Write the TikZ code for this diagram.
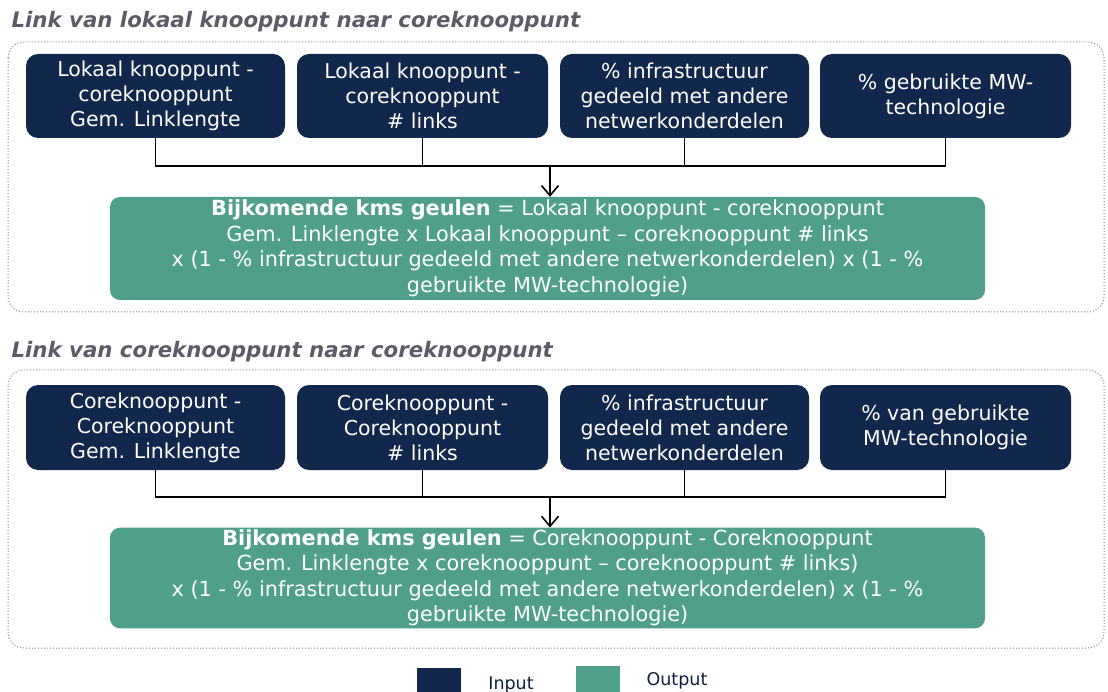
\documentclass[tikz,border=0pt]{standalone}
\usepackage{fontspec}
\setmainfont{DejaVu Sans}
\usetikzlibrary{arrows.meta}
\definecolor{navy}{HTML}{11284C}
\definecolor{teal}{HTML}{4F9F8A}
\definecolor{titlegray}{HTML}{5C5C68}
\definecolor{framegray}{HTML}{8A8A8A}
\begin{document}
\begin{tikzpicture}[x=1pt,y=-1pt,
  inbox/.style={fill=navy,text=white,rounded corners=12pt,minimum height=84pt,
    align=center,font=\fontsize{20.5}{25}\selectfont,inner sep=2pt},
  outbox/.style={fill=teal,text=white,rounded corners=10pt,minimum width=875pt,
    align=center,font=\fontsize{20.8}{25.5}\selectfont,inner sep=2pt},
  frame/.style={draw=framegray,dotted,line width=1pt,rounded corners=16pt},
  heading/.style={anchor=west,text=titlegray,font=\fontsize{21.3}{24}\selectfont\bfseries\itshape},
  wire/.style={draw=black,line width=1.4pt},
  feed/.style={wire,-{Straight Barb[length=10pt,width=17pt,line width=1.6pt]}},
  legendtext/.style={text=navy!80!black,font=\fontsize{17.5}{20}\selectfont}]
\useasboundingbox[fill=white] (0,0) rectangle (1108,692);

% ---- link from local node to core node ----
\node[heading] (t1) at (8,22) {Link van lokaal knooppunt naar coreknooppunt};
\draw[frame] (8,42) rectangle (1104,312);
\node[inbox,minimum width=259pt] (a1) at (155.5,96) {Lokaal knooppunt -\\coreknooppunt\\Gem. Linklengte};
\node[inbox,minimum width=251pt] (a2) at (422.5,96) {Lokaal knooppunt -\\coreknooppunt\\\# links};
\node[inbox,minimum width=249pt] (a3) at (684.5,96) {\% infrastructuur\\gedeeld met andere\\netwerkonderdelen};
\node[inbox,minimum width=251pt] (a4) at (945.5,96) {\% gebruikte MW-\\technologie};
\node[outbox,minimum height=103pt] (ga) at (547.5,248.5) {\textbf{Bijkomende kms geulen} = Lokaal knooppunt - coreknooppunt\\Gem. Linklengte x Lokaal knooppunt – coreknooppunt \# links\\x (1 - \% infrastructuur gedeeld met andere netwerkonderdelen) x (1 - \%\\gebruikte MW-technologie)};
\coordinate (ja) at (550,166);
\draw[wire] (a1.south) |- (ja) -| (a4.south);
\draw[wire] (a2.south) -- (a2.south |- ja);
\draw[wire] (a3.south) -- (a3.south |- ja);
\draw[feed] (ja) -- (ja |- ga.north);

% ---- link from core node to core node ----
\node[heading] (t2) at (8,352) {Link van coreknooppunt naar coreknooppunt};
\draw[frame] (8,370) rectangle (1104,648);
\node[inbox,minimum width=259pt,minimum height=85pt] (b1) at (155.5,427.5) {Coreknooppunt -\\Coreknooppunt\\Gem. Linklengte};
\node[inbox,minimum width=251pt,minimum height=85pt] (b2) at (422.5,427.5) {Coreknooppunt -\\Coreknooppunt\\\# links};
\node[inbox,minimum width=249pt,minimum height=85pt] (b3) at (684.5,427.5) {\% infrastructuur\\gedeeld met andere\\netwerkonderdelen};
\node[inbox,minimum width=251pt,minimum height=85pt] (b4) at (945.5,427.5) {\% van gebruikte\\MW-technologie};
\node[outbox,minimum height=100pt] (gb) at (547.5,578) {\textbf{Bijkomende kms geulen} = Coreknooppunt - Coreknooppunt\\Gem. Linklengte x coreknooppunt – coreknooppunt \# links)\\x (1 - \% infrastructuur gedeeld met andere netwerkonderdelen) x (1 - \%\\gebruikte MW-technologie)};
\coordinate (jb) at (550,497);
\draw[wire] (b1.south) |- (jb) -| (b4.south);
\draw[wire] (b2.south) -- (b2.south |- jb);
\draw[wire] (b3.south) -- (b3.south |- jb);
\draw[feed] (jb) -- (jb |- gb.north);

% ---- legend ----
\node[fill=navy,minimum width=44pt,minimum height=30pt,inner sep=0pt] (kin) at (439,683) {};
\node[legendtext] (lin) at (511,685) {Input};
\node[fill=teal,minimum width=44pt,minimum height=30pt,inner sep=0pt] (kout) at (598,681) {};
\node[legendtext] (lout) at (677,681) {Output};
\end{tikzpicture}
\end{document}
